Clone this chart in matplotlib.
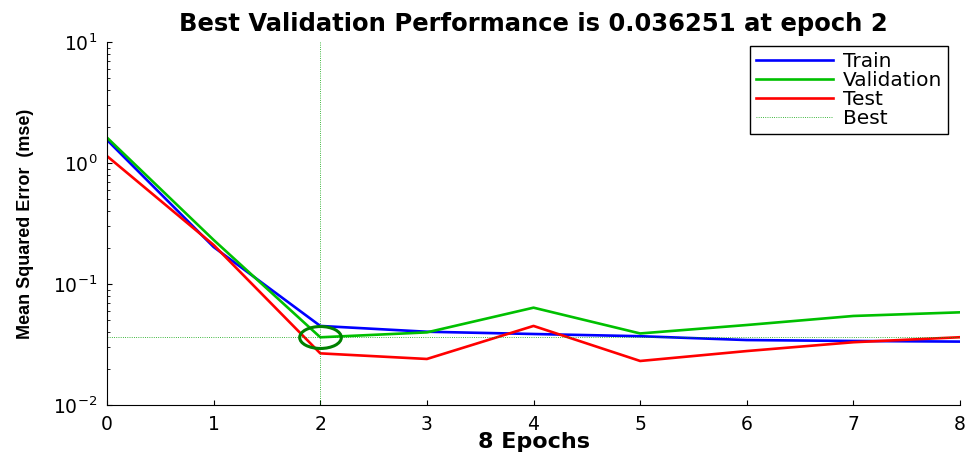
import numpy as np
import matplotlib
matplotlib.use('Agg')
import matplotlib.pyplot as plt
from matplotlib.path import Path
from matplotlib.transforms import Affine2D

plt.rcParams['font.family'] = ['DejaVu Sans']
plt.rcParams['mathtext.fontset'] = 'custom'
plt.rcParams['mathtext.rm'] = 'DejaVu Sans'

epochs = [0, 1, 2, 3, 4, 5, 6, 7, 8]
train = [1.55, 0.202, 0.045, 0.0403, 0.0386, 0.037, 0.0344, 0.0338, 0.0334]
valid = [1.62, 0.231, 0.036251, 0.0398, 0.0637, 0.039, 0.0458, 0.0544, 0.0583]
test = [1.14, 0.21, 0.0267, 0.024, 0.045, 0.0231, 0.0279, 0.033, 0.0363]
best_epoch = 2
best_perf = 0.036251

fig = plt.figure(figsize=(9.66, 4.54), dpi=100)
ax = fig.add_axes([0.1108, 0.108, 0.883, 0.7995])

ax.plot(epochs, train, color='#0000ff', lw=1.9, label='Train')
ax.plot(epochs, valid, color='#00c000', lw=1.9, label='Validation')
ax.plot(epochs, test, color='#ff0000', lw=1.9, label='Test')
ax.axvline(best_epoch, color='#00a000', lw=0.6, ls=':', label='Best')
ax.axhline(best_perf, color='#00a000', lw=0.6, ls=':')

# ellipse marker, wider than tall like the reference
ell = Path.unit_circle().transformed(Affine2D().scale(1.9, 1.0))
ax.plot([best_epoch], [best_perf], ls='none', marker=ell, markersize=30,
        markerfacecolor='none', markeredgecolor='#008000', markeredgewidth=2.2)

ax.set_yscale('log')
ax.set_xlim(0, 8)
ax.set_ylim(0.01, 10)
ax.set_xticks(epochs)
ax.tick_params(axis='both', which='both', direction='in', labelsize=13.5)
ax.tick_params(axis='x', pad=7)
ax.tick_params(axis='y', pad=7)
ax.spines['top'].set_visible(False)
ax.spines['right'].set_visible(False)

ax.set_title('Best Validation Performance is 0.036251 at epoch 2',
             fontsize=17.5, fontweight='bold', pad=8)
ax.set_xlabel('8 Epochs', fontsize=16, fontweight='bold', labelpad=-1)
ax.set_ylabel('Mean Squared Error  (mse)', fontsize=13, fontweight='bold',
              family='Liberation Sans', va='center')
ax.yaxis.set_label_coords(-0.095, 0.5)

leg = ax.legend(loc='upper right', bbox_to_anchor=(0.986, 0.989), borderaxespad=0,
                fontsize=14.5, handlelength=3.8, fancybox=False, edgecolor='black',
                framealpha=1, borderpad=0.3, labelspacing=0.0, handletextpad=0.5)
leg.get_frame().set_linewidth(1.0)

fig.savefig('out.png', dpi=100)
